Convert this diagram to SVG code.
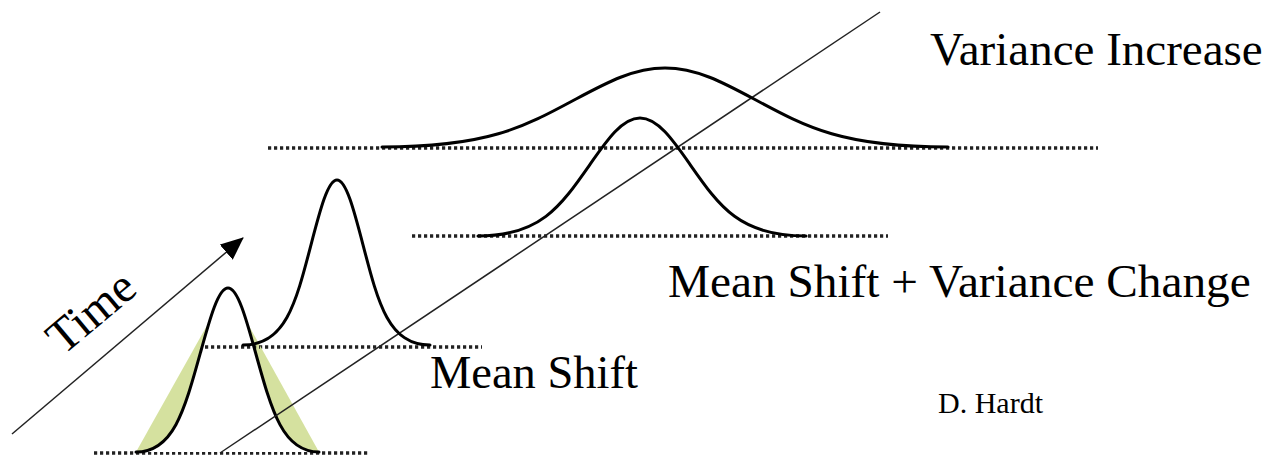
<svg xmlns="http://www.w3.org/2000/svg" width="1268" height="460" viewBox="0 0 1268 460">
<style>
.curve{fill:none;stroke:#000;stroke-width:3;stroke-linejoin:round;stroke-linecap:round}
.dots{fill:none;stroke:#222;stroke-width:3.4;stroke-dasharray:3.2 2.8}
.thin{fill:none;stroke:#222;stroke-width:1.5}
text{fill:#000}
</style>
<defs>
<marker id="ah" markerUnits="userSpaceOnUse" markerWidth="24" markerHeight="20" refX="22" refY="10" orient="auto">
<path d="M0,0 L23,10 L0,20 Z" fill="#000"/>
</marker>
</defs>
<rect width="1268" height="460" fill="#fff"/>

<g id="baselines">
<line class="dots" x1="94" y1="453" x2="370" y2="453"/>
<line class="dots" x1="205" y1="347" x2="482" y2="347"/>
<line class="dots" x1="412" y1="236" x2="888" y2="236"/>
<line class="dots" x1="268" y1="148" x2="1098" y2="148"/>
</g>

<g id="dist-original">
<polygon points="136,452 228,288 319,452" fill="#d5e19f"/>
<path d="M136,452 C173,452 184,412.1 200.5,352.5 C210.1,317.7 218.4,288 228,288 C237.6,288 245.9,317.7 255.5,352.5 C272,412.1 283,452 319,452 Z" fill="#fff" stroke="none"/>
<line class="dots" x1="205" y1="347" x2="260" y2="347"/>
<path class="curve" d="M136,452 C173,452 184,412.1 200.5,352.5 C210.1,317.7 218.4,288 228,288 C237.6,288 245.9,317.7 255.5,352.5 C272,412.1 283,452 319,452"/>
</g>

<g id="connectors">
<line class="thin" x1="12" y1="434" x2="243" y2="238" marker-end="url(#ah)"/>
<line class="thin" x1="220" y1="453" x2="880" y2="12"/>
</g>

<g id="dist-mean-shift">
<path class="curve" d="M243,345 C285,345 295.4,304.9 311,244.8 C320.1,209.9 327.9,180 337,180 C346.1,180 353.9,209.9 363,244.8 C378.6,304.9 389,345 430,345"/>
</g>

<g id="dist-mean-variance">
<path class="curve" d="M478,236 C540,236 560,207.3 590,164.4 C607.5,139.4 622.5,118 640,118 C657.5,118 672.5,139.4 690,164.4 C720,207.3 740,236 806,236"/>
</g>

<g id="dist-variance-increase">
<path class="curve" d="M382,147 C487,147 522.6,127.8 576,99 C607.2,82.3 633.9,68 665,68 C696.2,68 722.9,82.3 754,99 C807.4,127.8 843,147 948,147"/>
</g>

<g id="labels" font-family="'Liberation Serif', 'Times New Roman', serif">
<text x="930" y="65" font-size="47">Variance Increase</text>
<text x="668" y="297" font-size="47.3">Mean Shift + Variance Change</text>
<text x="430" y="388" font-size="46.5">Mean Shift</text>
<text x="938" y="413" font-size="30">D. Hardt</text>
<text font-size="48" transform="translate(63,356) rotate(-40)">Time</text>
</g>
</svg>
